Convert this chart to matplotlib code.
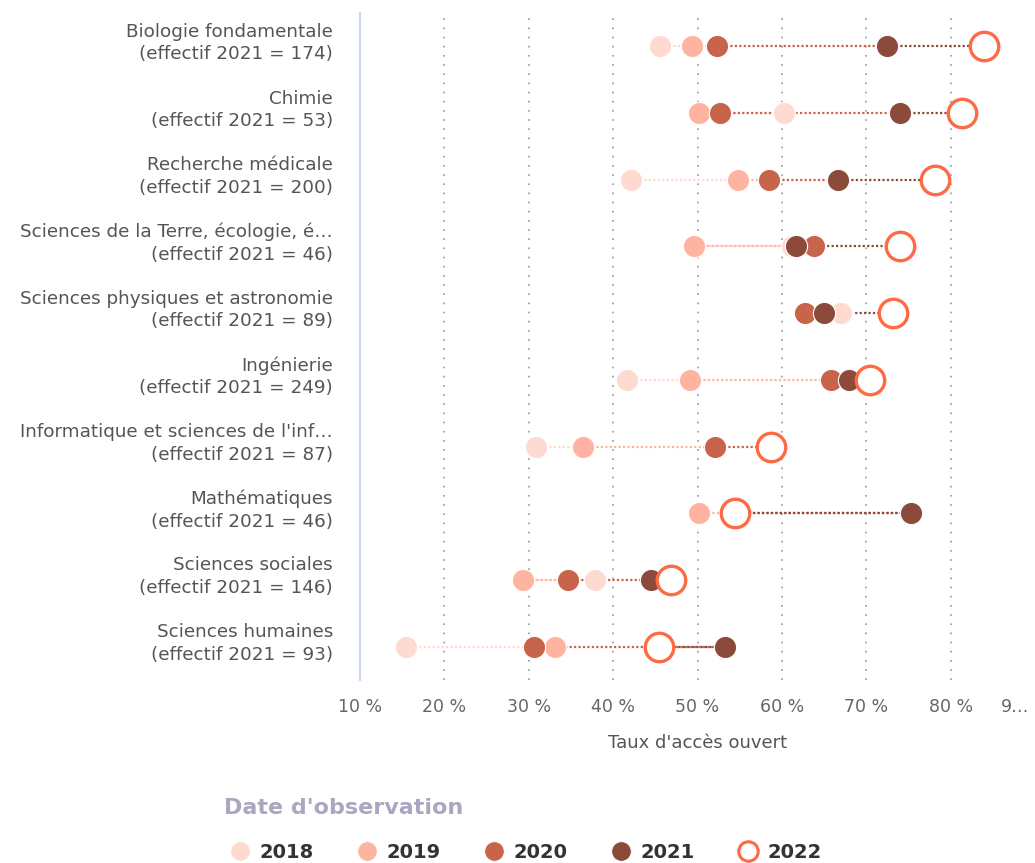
import matplotlib.pyplot as plt
import matplotlib.transforms as mtransforms
from matplotlib.lines import Line2D

plt.rcParams['font.family'] = ['DejaVu Sans']

categories = ["Biologie fondamentale", "Chimie", "Recherche médicale",
              "Sciences de la Terre, écologie, é…", "Sciences physiques et astronomie",
              "Ingénierie", "Informatique et sciences de l'inf…", "Mathématiques",
              "Sciences sociales", "Sciences humaines"]
effectif = [174, 53, 200, 46, 89, 249, 87, 46, 146, 93]

years = ["2018", "2019", "2020", "2021", "2022"]
v2018 = [45.6, 60.2, 42.1, 61.2, 67.0, 41.6, 30.8, 50.0, 37.8, 15.5]
v2019 = [49.4, 50.2, 54.8, 49.6, 65.0, 49.1, 36.4, 50.2, 29.3, 33.1]
v2020 = [52.3, 52.7, 58.5, 63.8, 62.7, 65.8, 52.1, 54.5, 34.7, 30.6]
v2021 = [72.5, 74.0, 66.7, 61.7, 65.0, 67.9, 58.5, 75.3, 44.5, 53.3]
v2022 = [84.0, 81.3, 78.1, 74.0, 73.2, 70.5, 58.7, 54.5, 46.9, 45.4]
series = [v2018, v2019, v2020, v2021, v2022]
colors = ["#ffdad0", "#ffb4a1", "#c8644b", "#8c4a3a", "#fe6a44"]

xticks = [10, 20, 30, 40, 50, 60, 70, 80, 90]
xticklabels = ["10 %", "20 %", "30 %", "40 %", "50 %", "60 %", "70 %", "80 %", "9…"]

fig = plt.figure(figsize=(10.35, 8.63), dpi=100)
ax = fig.add_axes([360 / 1035, 183 / 863, 675 / 1035, 667 / 863])

# dotted segments between consecutive years, colour of the earlier year
for i in range(len(categories)):
    for k in range(4):
        ax.plot([series[k][i], series[k + 1][i]], [i, i], color=colors[k],
                lw=1.6, ls=(0, (1, 1)), zorder=2, solid_capstyle='butt')

for k in range(4):
    ax.plot(series[k], range(len(categories)), 'o', ms=16, color=colors[k],
            mec='white', mew=0.8, zorder=3 + k)
ax.plot(v2022, range(len(categories)), 'o', ms=20.5, mfc='white', mec=colors[4],
        mew=2.4, zorder=8)

ax.set_xlim(10, 90)
ax.set_ylim(9.5, -0.5)
ax.set_yticks(range(len(categories)))
ax.set_yticklabels([f"{c}\n(effectif 2021 = {e})" for c, e in zip(categories, effectif)],
                   fontsize=13.2, color="#555555", linespacing=1.33)
ax.set_xticks(xticks)
ax.set_xticklabels(xticklabels, fontsize=12.5, color="#666666")
ax.tick_params(axis='x', length=0, pad=13)
ax.tick_params(axis='y', length=0, pad=19.5)
up = mtransforms.ScaledTranslation(0, 5.4 / 72, fig.dpi_scale_trans)
for lbl in ax.get_yticklabels():
    lbl.set_horizontalalignment('right')
    lbl.set_transform(lbl.get_transform() + up)
last = ax.get_xticklabels()[-1]
last.set_horizontalalignment('right')
last.set_transform(last.get_transform() + mtransforms.ScaledTranslation(-6 / 100, 0, fig.dpi_scale_trans))

for x in xticks[1:-1]:
    ax.axvline(x, color="#999999", lw=1.2, ls=(0, (1, 4.5)), zorder=1)

for s in ['top', 'right', 'bottom']:
    ax.spines[s].set_visible(False)
ax.spines['left'].set_color("#ccd6eb")
ax.spines['left'].set_linewidth(1.5)

ax.set_xlabel("Taux d'accès ouvert", fontsize=13, color="#555555", labelpad=13)

handles = [Line2D([], [], marker='o', ls='none', ms=14, color=colors[k], mec='white', mew=0.5)
           for k in range(4)]
handles.append(Line2D([], [], marker='o', ls='none', ms=14, mfc='white',
                      mec=colors[4], mew=2.2))
leg = fig.legend(handles, years, loc='center left', bbox_to_anchor=(211 / 1035, 1 - 852 / 863),
                 ncol=5, frameon=False, prop={'size': 14, 'weight': 'bold'},
                 handletextpad=0.4, columnspacing=2.14, handlelength=1.2)
for t in leg.get_texts():
    t.set_color("#333333")
fig.text(224 / 1035, 1 - 808 / 863, "Date d'observation", fontsize=16, fontweight='bold',
         color="#a8a8c0", ha='left', va='center')

fig.savefig("out.png", dpi=100)
